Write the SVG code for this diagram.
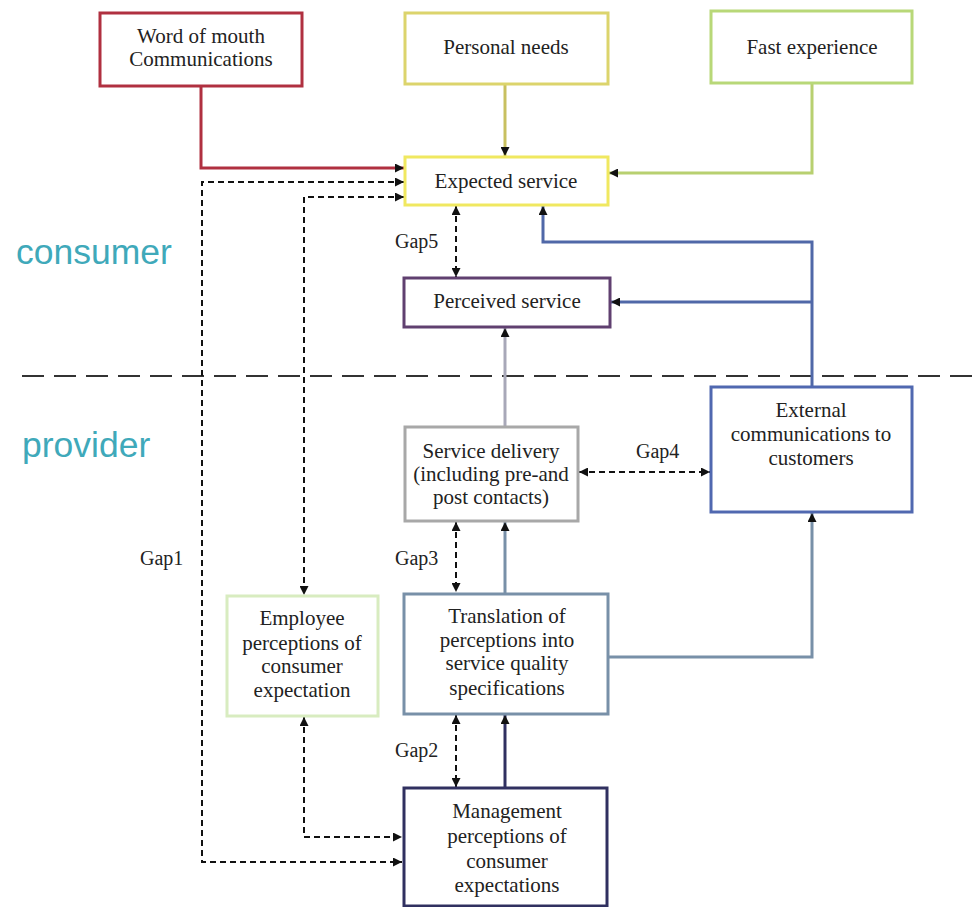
<svg xmlns="http://www.w3.org/2000/svg" width="979" height="907" viewBox="0 0 979 907">
<style>
.box{fill:#ffffff;stroke-width:3}
.t{font-family:"Liberation Serif","Times New Roman",serif;font-size:21px;fill:#222;text-anchor:middle}
.g{font-family:"Liberation Serif","Times New Roman",serif;font-size:20px;fill:#222}
.side{font-family:"Liberation Sans",Arial,sans-serif;font-size:35.5px;fill:#3fa9ba}
.d{fill:none;stroke:#111;stroke-width:2;stroke-dasharray:6 4;marker-start:url(#a);marker-end:url(#a)}
.s{fill:none;stroke-width:3;marker-end:url(#a)}
</style>
<defs>
<marker id="a" viewBox="0 0 10 10" refX="10" refY="5" markerWidth="10" markerHeight="9" markerUnits="userSpaceOnUse" orient="auto-start-reverse">
<path d="M0,0 L10,5 L0,10 z" fill="#111"/>
</marker>
</defs>
<rect width="979" height="907" fill="#ffffff"/>
<text class="side" x="16" y="264">consumer</text>
<text class="side" x="22" y="457">provider</text>
<path d="M22,376 H979" stroke="#333" stroke-width="2" stroke-dasharray="22 10" fill="none"/>
<g id="connectors">
<path class="s" stroke="#b03040" d="M201,86 V168 H404"/>
<path class="s" stroke="#c8c060" d="M505,84 V156"/>
<path class="s" stroke="#b8d070" d="M812,83 V173 H609"/>
<path class="s" stroke="#5068a8" d="M812,387 V242 H543 V206"/>
<path class="s" stroke="#5068a8" d="M812,302 H611"/>
<path class="s" stroke="#a8a8b8" d="M505,427 V328"/>
<path class="s" stroke="#7890a8" d="M505,593 V522"/>
<path class="s" stroke="#7890a8" d="M608,657 H812 V513"/>
<path class="s" stroke="#303060" d="M505,788 V715"/>
<path class="d" d="M404,182 H202 V862 H402"/>
<path class="d" d="M404,197 H304 V595"/>
<path class="d" d="M304,717 V837 H402"/>
<path class="d" d="M456,206 V277"/>
<path class="d" d="M579,472 H710"/>
<path class="d" d="M456,522 V592"/>
<path class="d" d="M456,715 V787"/>
</g>
<text class="g" x="395" y="248">Gap5</text>
<text class="g" x="636" y="458">Gap4</text>
<text class="g" x="395" y="565">Gap3</text>
<text class="g" x="395" y="757">Gap2</text>
<text class="g" x="140" y="565">Gap1</text>
<g id="word-of-mouth">
<rect class="box" x="100" y="13" width="202" height="73" stroke="#b03040"/>
<text class="t" x="201" y="43">Word of mouth</text>
<text class="t" x="201" y="66">Communications</text>
</g>
<g id="personal-needs">
<rect class="box" x="405" y="13" width="203" height="71" stroke="#dcd46c"/>
<text class="t" x="506" y="54">Personal needs</text>
</g>
<g id="fast-experience">
<rect class="box" x="711" y="11" width="201" height="72" stroke="#b8d878"/>
<text class="t" x="812" y="54">Fast experience</text>
</g>
<g id="expected-service">
<rect class="box" x="405" y="157" width="203" height="48" stroke="#f0e860"/>
<text class="t" x="506" y="188">Expected service</text>
</g>
<g id="perceived-service">
<rect class="box" x="404" y="278" width="206" height="49" stroke="#604070"/>
<text class="t" x="507" y="308">Perceived service</text>
</g>
<g id="service-delivery">
<rect class="box" x="405" y="427" width="173" height="94" stroke="#a8a8a8"/>
<text class="t" x="491" y="458">Service delivery</text>
<text class="t" x="491" y="481">(including pre-and</text>
<text class="t" x="491" y="504">post contacts)</text>
</g>
<g id="external-communications">
<rect class="box" x="711" y="387" width="201" height="125" stroke="#5068b0"/>
<text class="t" x="811" y="417">External</text>
<text class="t" x="811" y="441">communications to</text>
<text class="t" x="811" y="465">customers</text>
</g>
<g id="employee-perceptions">
<rect class="box" x="227" y="596" width="151" height="120" stroke="#d8ecc0"/>
<text class="t" x="302" y="625">Employee</text>
<text class="t" x="302" y="650">perceptions of</text>
<text class="t" x="302" y="673">consumer</text>
<text class="t" x="302" y="697">expectation</text>
</g>
<g id="translation">
<rect class="box" x="404" y="594" width="204" height="120" stroke="#7890a8"/>
<text class="t" x="507" y="623">Translation of</text>
<text class="t" x="507" y="647">perceptions into</text>
<text class="t" x="507" y="670">service quality</text>
<text class="t" x="507" y="695">specifications</text>
</g>
<g id="management-perceptions">
<rect class="box" x="404" y="788" width="203" height="118" stroke="#303060"/>
<text class="t" x="507" y="818">Management</text>
<text class="t" x="507" y="843">perceptions of</text>
<text class="t" x="507" y="868">consumer</text>
<text class="t" x="507" y="892">expectations</text>
</g>
</svg>
